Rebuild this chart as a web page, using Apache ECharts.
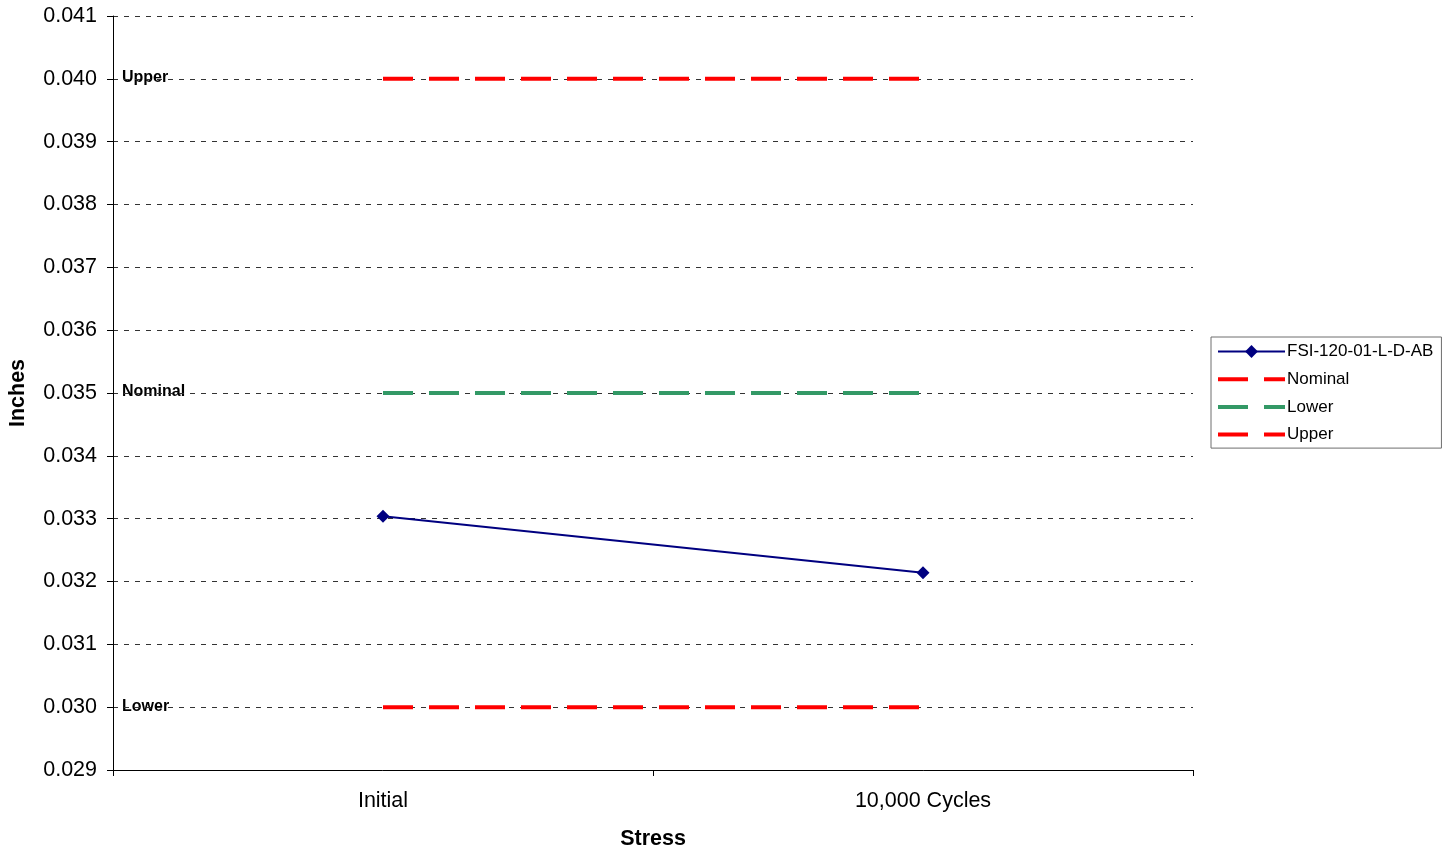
<!DOCTYPE html>
<html>
<head>
<meta charset="utf-8">
<script src="https://cdn.jsdelivr.net/npm/echarts@6/dist/echarts.min.js"></script>
<style>
  html, body { margin: 0; padding: 0; background: #fff; }
  #chart { width: 1453px; height: 852px; }
</style>
</head>
<body>
<div id="chart"></div>
<script>
// Stress categories and measured thickness (inches)
const categories = ['Initial', '10,000 Cycles'];
const measured = [0.03304, 0.03214];
// Specification limit lines
const nominalLine = [0.030, 0.030];
const lowerLine = [0.035, 0.035];
const upperLine = [0.040, 0.040];
// Limit text shown at the left edge of the plot
const limitLabels = [
  { text: 'Upper', value: 0.040 },
  { text: 'Nominal', value: 0.035 },
  { text: 'Lower', value: 0.030 }
];

const font = 'Liberation Sans, Arial, sans-serif';
const chart = echarts.init(document.getElementById('chart'));

const limitDash = { width: 4, type: [30, 16] };
const dashedLine = (name, data, color) => ({
  name: name,
  type: 'line',
  data: data,
  symbol: 'none',
  lineStyle: Object.assign({ color: color }, limitDash),
  itemStyle: { color: color },
  z: 3
});
const dashedLegend = name => ({
  name: name,
  itemStyle: { opacity: 0 },
  lineStyle: limitDash
});

chart.setOption({
  animation: false,
  grid: { left: 113, top: 16, right: 260, bottom: 82, outerBoundsMode: 'none' },
  legend: {
    orient: 'vertical',
    left: 1211,
    top: 337,
    padding: [6, 8, 5, 5],
    itemGap: 10.7,
    itemWidth: 67,
    itemHeight: 16,
    borderColor: '#6e6e6e',
    borderWidth: 1,
    textStyle: { fontFamily: font, fontSize: 17, color: '#000', padding: [0, 0, 0, -3] },
    data: [
      { name: 'FSI-120-01-L-D-AB' },
      dashedLegend('Nominal'),
      dashedLegend('Lower'),
      dashedLegend('Upper')
    ]
  },
  xAxis: {
    type: 'category',
    data: categories,
    boundaryGap: true,
    name: 'Stress',
    nameLocation: 'middle',
    nameGap: 58,
    nameTextStyle: { fontFamily: font, fontSize: 21.5, fontWeight: 'bold', color: '#000' },
    axisLine: { lineStyle: { color: '#000', width: 1 } },
    axisTick: { show: true, length: 6, lineStyle: { color: '#000' } },
    axisLabel: { fontFamily: font, fontSize: 21.5, color: '#000', margin: 20 },
    splitLine: { show: false }
  },
  yAxis: {
    type: 'value',
    min: 0.029,
    max: 0.041,
    interval: 0.001,
    name: 'Inches',
    nameLocation: 'middle',
    nameRotate: 90,
    nameGap: 84,
    nameTextStyle: { fontFamily: font, fontSize: 21.5, fontWeight: 'bold', color: '#000' },
    axisLine: { show: true, lineStyle: { color: '#000', width: 1 } },
    axisTick: { show: true, length: 6, lineStyle: { color: '#000' } },
    axisLabel: {
      fontFamily: font, fontSize: 21.5, color: '#000', margin: 16,
      formatter: v => v.toFixed(3)
    },
    splitLine: { show: true, lineStyle: { color: '#333', width: 1, type: [5, 6] } }
  },
  series: [
    {
      name: 'FSI-120-01-L-D-AB',
      type: 'line',
      data: measured,
      symbol: 'diamond',
      symbolSize: 13,
      lineStyle: { color: '#000080', width: 2 },
      itemStyle: { color: '#000080' },
      z: 5
    },
    dashedLine('Nominal', nominalLine, '#ff0000'),
    dashedLine('Lower', lowerLine, '#339966'),
    dashedLine('Upper', upperLine, '#ff0000')
  ]
});

// Place the limit names on their grid lines
const axisX = chart.convertToPixel({ xAxisIndex: 0 }, 0) - 270;
chart.setOption({
  graphic: limitLabels.map(l => ({
    type: 'text',
    z: -1,
    x: axisX + 9,
    y: chart.convertToPixel({ yAxisIndex: 0 }, l.value) - 1,
    style: {
      text: l.text,
      font: 'bold 16px ' + font,
      fill: '#000',
      verticalAlign: 'middle'
    }
  }))
});
</script>
</body>
</html>
